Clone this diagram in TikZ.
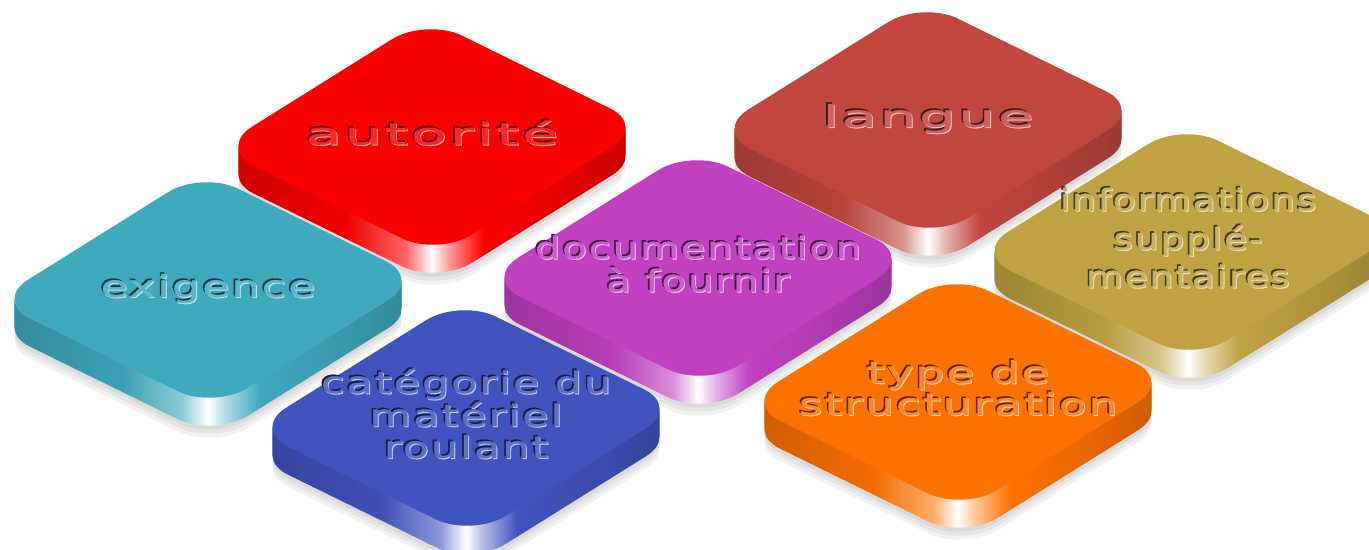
\documentclass[tikz,border=0pt]{standalone}
\usepackage{fontspec}
\usepackage{graphicx}
\usepackage{tikz}
\usetikzlibrary{calc}
\newfontfamily\tilefont[LetterSpace=5,FakeBold=1]{DejaVu Sans}

\definecolor{cExig}{RGB}{63,169,190}
\definecolor{cAuto}{RGB}{252,0,0}
\definecolor{cCate}{RGB}{64,84,192}
\definecolor{cDocu}{RGB}{192,64,192}
\definecolor{cLang}{RGB}{192,70,62}
\definecolor{cInfo}{RGB}{192,162,66}
\definecolor{cType}{RGB}{255,114,0}

% side of a tile: dark at the ends, white gleam under the front corner
\colorlet{tileside}{red}
\pgfdeclarehorizontalshading[tileside]{sideshade}{100bp}{%
  color(0bp)=(tileside!80!black); color(25bp)=(tileside!80!black);
  color(40bp)=(tileside!95!black); color(47bp)=(tileside!60!white);
  color(50bp)=(white); color(52bp)=(white!60!tileside);
  color(56bp)=(tileside); color(66bp)=(tileside!90!black);
  color(75bp)=(tileside!78!black); color(100bp)=(tileside!78!black)}

% top face of a tile around (#1,#2), pushed down by #3
\newcommand{\tileface}[3]{({#1-214},{#2+11+#3}) -- ({#1-6},{#2-119+#3}) -- ({#1+214},{#2-11+#3}) -- ({#1+6},{#2+119+#3}) -- cycle}

% name, x, y, colour, stretch, text
\newcommand{\drawtile}[6]{%
  \colorlet{tileside}{#4}
  \coordinate (#1) at (#2,#3);
  % soft shadow on the ground
  \foreach \s in {32,36,40}
    \fill[rounded corners=20pt,black,opacity=0.05] \tileface{#2}{#3}{\s};
  \foreach \d in {28,26,...,2}
    \path[rounded corners=20pt,shading=sideshade] \tileface{#2}{#3}{\d};
  \fill[rounded corners=20pt,#4] \tileface{#2}{#3}{0};
  \node[tiletext,text=#4!35!black,xshift=-0.8pt,yshift=0.8pt] (#1-dk) at (#1)
    {\scalebox{#5}[1]{\begin{tabular}{@{}c@{}}#6\end{tabular}}};
  \node[tiletext,text=#4!30!white,xshift=0.5pt,yshift=-0.5pt] (#1-lt) at (#1)
    {\scalebox{#5}[1]{\begin{tabular}{@{}c@{}}#6\end{tabular}}};
  \node[tiletext,text=#4!85!white] (#1-txt) at (#1)
    {\scalebox{#5}[1]{\begin{tabular}{@{}c@{}}#6\end{tabular}}};
}

\begin{document}
\begin{tikzpicture}[x=0.5pt,y=-0.5pt,
    tiletext/.style={inner sep=0pt,font=\tilefont\fontsize{15}{15}\selectfont}]

  \useasboundingbox (0,0) rectangle (1369,550);

  % back row first, front row last
  \drawtile{lang}{928}{120}{cLang}{1.92}{langue}
  \drawtile{auto}{432}{137}{cAuto}{1.96}{autorité}
  \drawtile{info}{1188}{242}{cInfo}{1.25}{informations\\[3pt] supplé-\\[3pt] mentaires}
  \drawtile{docu}{698}{268}{cDocu}{1.33}{documentation\\ à fournir}
  \drawtile{exig}{208}{290}{cExig}{1.47}{exigence}
  \drawtile{type}{958}{392}{cType}{1.50}{type de\\ structuration}
  \drawtile{cate}{466}{418}{cCate}{1.42}{catégorie du\\ matériel\\ roulant}

\end{tikzpicture}
\end{document}
